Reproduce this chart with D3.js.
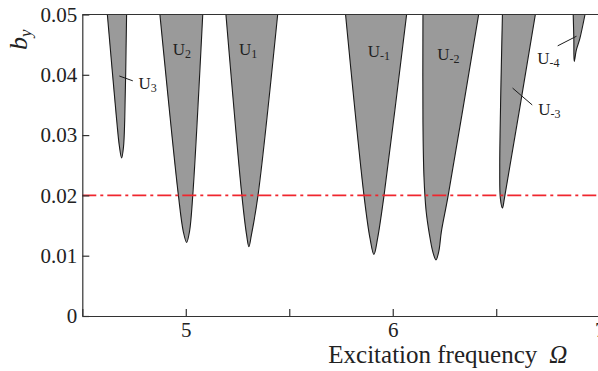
<!DOCTYPE html>
<html>
<head>
<meta charset="utf-8">
<script src="https://cdn.jsdelivr.net/npm/d3@7"></script>
<style>
  body { margin: 0; background: #fff; }
  svg { display: block; font-family: "Liberation Serif", "Times New Roman", serif; }
  .tongue { fill: #9a9a9a; stroke: #1a1a1a; stroke-width: 1.1; }
  .axis path, .axis line { stroke: #333; stroke-width: 1.2; }
  .axis text { font-family: "Liberation Serif", serif; font-size: 21px; fill: #222; }
  .lbl { font-size: 17px; fill: #222; }
  .sub { font-size: 12px; }
</style>
</head>
<body>
<script>
// instability tongues, boundary points [omega, b] from top-left, down to tip, up to top-right
var tongueNames = ["U3", "U2", "U1", "U-1", "U-2", "U-3", "U-4"];
var tongueU3  = [[4.621,0.05],[4.666,0.0325],[4.679,0.0282],[4.690,0.0262],[4.699,0.0280],[4.705,0.0325],[4.714,0.05]];
var tongueU2  = [[4.875,0.05],[4.964,0.0201],[4.988,0.014],[5.004,0.0122],[5.018,0.014],[5.034,0.0201],[5.082,0.05]];
var tongueU1  = [[5.194,0.05],[5.271,0.02],[5.294,0.0134],[5.305,0.0115],[5.317,0.0134],[5.349,0.02],[5.444,0.05]];
var tongueUm1 = [[5.772,0.05],[5.861,0.02],[5.890,0.0129],[5.909,0.0102],[5.927,0.0129],[5.958,0.02],[6.067,0.05]];
var tongueUm2 = [[6.146,0.05],[6.146,0.032],[6.151,0.023],[6.161,0.0175],[6.176,0.0138],[6.194,0.0106],[6.209,0.0093],[6.223,0.0108],[6.235,0.014],[6.268,0.02],[6.415,0.05]];
var tongueUm3 = [[6.530,0.05],[6.521,0.035],[6.517,0.0245],[6.520,0.0195],[6.530,0.0179],[6.540,0.0196],[6.689,0.05]];
var tongueUm4 = [[6.872,0.05],[6.875,0.046],[6.877,0.0422],[6.887,0.0441],[6.904,0.046],[6.929,0.05]];
var tongues = [tongueU3, tongueU2, tongueU1, tongueUm1, tongueUm2, tongueUm3, tongueUm4];

// labels: main, subscript, omega, b
var labelMain = ["U", "U", "U", "U", "U", "U", "U"];
var labelSub  = ["3", "2", "1", "-1", "-2", "-4", "-3"];
var labelX    = [4.771, 4.937, 5.257, 5.879, 6.215, 6.698, 6.703];
var labelY    = [0.0376, 0.0433, 0.0433, 0.0430, 0.0425, 0.0418, 0.0333];

// leader lines [omega1, b1, omega2, b2]
var leaders = [[4.679,0.0398,4.744,0.0390],[6.797,0.0448,6.888,0.0464],[6.579,0.0378,6.674,0.0350]];

var threshold = 0.02;
var xTicks = [4.5, 5, 5.5, 6, 6.5, 7];
var yTicks = [0, 0.01, 0.02, 0.03, 0.04, 0.05];

var W = 598, H = 371;
var margin = {top: 14.5, right: -1.7, bottom: 55, left: 82.3};
var width = W - margin.left - margin.right,
    height = H - margin.top - margin.bottom;

var svg = d3.select("body").append("svg")
    .attr("width", W)
    .attr("height", H)
  .append("g")
    .attr("transform", "translate(" + margin.left + "," + margin.top + ")");

var x = d3.scaleLinear().domain([4.5, 7]).range([0, width]);
var y = d3.scaleLinear().domain([0, 0.05]).range([height, 0]);

var line = d3.line()
    .x(function(d) { return x(d[0]); })
    .y(function(d) { return y(d[1]); })
    .curve(d3.curveCatmullRom.alpha(0.5));

svg.selectAll(".tongue")
    .data(tongues)
  .enter().append("path")
    .attr("class", "tongue")
    .attr("d", function(d) { return line(d) + "Z"; });

// threshold line
svg.append("line")
    .attr("x1", x(4.5)).attr("x2", x(7))
    .attr("y1", y(threshold)).attr("y2", y(threshold))
    .attr("stroke", "#f0262e")
    .attr("stroke-width", 1.6)
    .attr("stroke-dasharray", "14,4,3,4");

// top frame
svg.append("line")
    .attr("x1", x(4.5)).attr("x2", x(7))
    .attr("y1", y(0.05)).attr("y2", y(0.05))
    .attr("stroke", "#333").attr("stroke-width", 1.2);

var xAxis = d3.axisBottom(x)
    .tickValues(xTicks)
    .tickSize(-7)
    .tickSizeOuter(0)
    .tickPadding(6)
    .tickFormat(function(d) { return d % 1 === 0 ? d : ""; });

var yAxis = d3.axisLeft(y)
    .tickValues(yTicks)
    .tickSize(-7)
    .tickSizeOuter(0)
    .tickPadding(5)
    .tickFormat(function(d) { return d === 0 ? "0" : d3.format(".2f")(d); });

svg.append("g")
    .attr("class", "x axis")
    .attr("transform", "translate(0," + height + ")")
    .call(xAxis);

svg.append("g")
    .attr("class", "y axis")
    .call(yAxis);

// leaders
svg.selectAll(".leader")
    .data(leaders)
  .enter().append("line")
    .attr("class", "leader")
    .attr("x1", function(d) { return x(d[0]); })
    .attr("y1", function(d) { return y(d[1]); })
    .attr("x2", function(d) { return x(d[2]); })
    .attr("y2", function(d) { return y(d[3]); })
    .attr("stroke", "#1a1a1a").attr("stroke-width", 1);

// tongue labels
labelMain.forEach(function(m, i) {
  var t = svg.append("text")
      .attr("class", "lbl")
      .attr("x", x(labelX[i]))
      .attr("y", y(labelY[i]));
  t.append("tspan").text(m);
  t.append("tspan").attr("class", "sub").attr("dy", 3).text(labelSub[i]);
});

// axis titles
var yt = svg.append("text")
    .attr("transform", "translate(" + (27 - margin.left) + "," + (50 - margin.top) + ") rotate(-90)")
    .attr("fill", "#222");
yt.append("tspan").attr("font-size", 26).attr("font-style", "italic").text("b");
yt.append("tspan").attr("font-size", 17).attr("font-style", "italic").attr("dy", 4).text("y");

var xt = svg.append("text")
    .attr("x", 328.3 - margin.left)
    .attr("y", 363 - margin.top)
    .attr("font-size", 25)
    .attr("fill", "#222");
xt.append("tspan").text("Excitation frequency");
xt.append("tspan").attr("dx", 12).attr("font-style", "italic").text("\u03A9");
</script>
</body>
</html>
